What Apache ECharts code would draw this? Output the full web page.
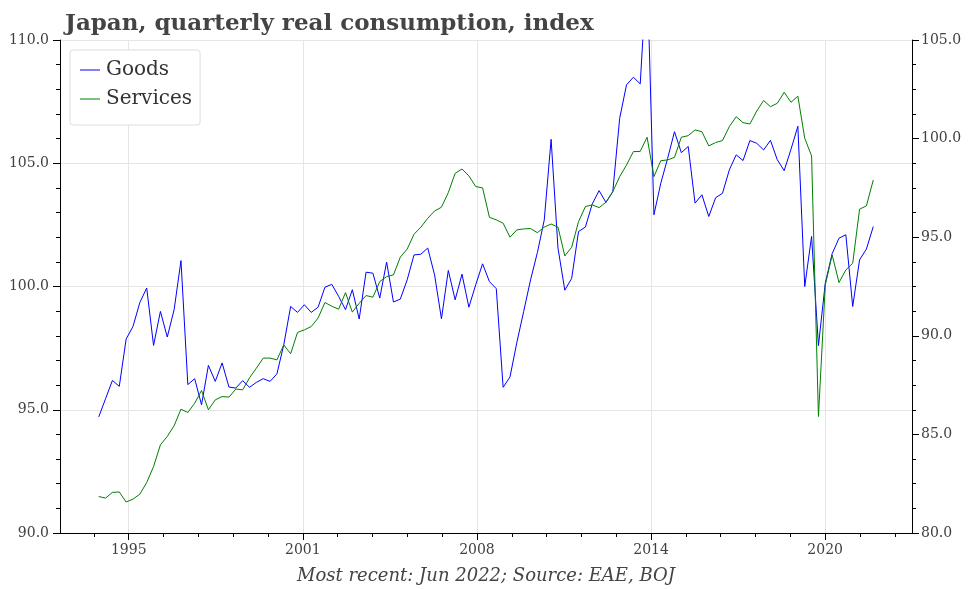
<!DOCTYPE html>
<html>
<head>
<meta charset="utf-8">
<script src="https://cdn.jsdelivr.net/npm/echarts/dist/echarts.min.js"></script>
<style>
  html, body { margin: 0; padding: 0; background: #fff; }
  #chart { width: 972px; height: 589px; }
</style>
</head>
<body>
<div id="chart"></div>
<script>
// ---- Data (quarterly, 1994 Q1 .. 2022 Q2) ----
const firstYear = 1994;
const quarters = [];
for (let y = firstYear; y <= 2022; y++) {
  for (let q = 1; q <= 4; q++) {
    if (y === 2022 && q > 2) break;
    quarters.push(y + ' Q' + q);
  }
}

const goods = [
  94.71, 95.45, 96.19, 95.95, 97.87, 98.38, 99.35, 99.94, 97.61, 98.99,
  97.95, 99.06, 101.05, 96.02, 96.26, 95.20, 96.80, 96.15, 96.90, 95.92,
  95.88, 96.18, 95.91, 96.11, 96.26, 96.15, 96.46, 97.64, 99.19, 98.95,
  99.26, 98.95, 99.16, 99.97, 100.09, 99.60, 99.06, 99.87, 98.68, 100.58,
  100.54, 99.53, 100.99, 99.37, 99.49, 100.27, 101.28, 101.31, 101.56, 100.47,
  98.69, 100.65, 99.46, 100.50, 99.16, 100.07, 100.92, 100.20, 99.91, 95.91,
  96.33, 97.73, 98.99, 100.27, 101.38, 102.70, 105.97, 101.56, 99.85, 100.33,
  102.23, 102.41, 103.35, 103.89, 103.41, 103.85, 106.82, 108.18, 108.49, 108.22,
  113.00, 102.91, 104.19, 105.20, 106.28, 105.43, 105.68, 103.38, 103.72, 102.84,
  103.60, 103.78, 104.73, 105.34, 105.11, 105.92, 105.81, 105.54, 105.93, 105.14,
  104.70, 105.57, 106.50, 100.00, 102.03, 97.60, 100.14, 101.33, 101.96, 102.10,
  99.19, 101.08, 101.52, 102.43
];

const services = [
  81.85, 81.77, 82.06, 82.08, 81.57, 81.72, 81.97, 82.56, 83.37, 84.47,
  84.90, 85.44, 86.28, 86.11, 86.58, 87.23, 86.25, 86.75, 86.92, 86.89,
  87.30, 87.26, 87.87, 88.36, 88.87, 88.87, 88.78, 89.54, 89.09, 90.17,
  90.30, 90.47, 90.90, 91.69, 91.50, 91.35, 92.19, 91.20, 91.65, 92.04,
  91.96, 92.75, 93.00, 93.09, 93.99, 94.40, 95.15, 95.51, 95.96, 96.33,
  96.52, 97.26, 98.24, 98.46, 98.11, 97.57, 97.50, 96.01, 95.88, 95.71,
  95.00, 95.37, 95.42, 95.44, 95.23, 95.51, 95.67, 95.51, 94.05, 94.49,
  95.79, 96.55, 96.64, 96.50, 96.77, 97.31, 98.07, 98.66, 99.34, 99.35,
  100.07, 98.07, 98.88, 98.92, 99.05, 100.07, 100.15, 100.44, 100.35, 99.63,
  99.80, 99.90, 100.61, 101.11, 100.81, 100.74, 101.40, 101.93, 101.62, 101.79,
  102.35, 101.84, 102.15, 100.02, 99.12, 85.91, 92.58, 94.10, 92.70, 93.34,
  93.68, 96.42, 96.59, 97.90
];

// x tick labels (years) as shown on the reference axis
const tickLabels = ['1995', '2001', '2008', '2014', '2020'];

// ---- Layout / axis configuration ----
const FONT = 'DejaVu Serif';
const TEXT = '#404040';
const n = quarters.length;
const pad = (n - 1) * 0.05;
const xMin = -pad, xMax = (n - 1) + pad;
const tickStart = 4.38, tickStep = 25.4;            // major tick placement (in quarters)
const majorTicks = tickLabels.map((_, k) => tickStart + k * tickStep);
const minorTicks = [];
for (let k = -1; k * tickStep / 5 + tickStart <= xMax; k++) {
  const v = tickStart + k * tickStep / 5;
  if (v >= xMin && k % 5 !== 0) minorTicks.push(v);
}

const goodsData = goods.map((v, i) => [i, v]);
const servicesData = services.map((v, i) => [i, v]);

const chart = echarts.init(document.getElementById('chart'), null, { renderer: 'canvas' });
chart.setOption({
  animation: false,
  backgroundColor: '#fff',
  title: [
    {
      text: 'Japan, quarterly real consumption, index',
      left: 60, top: 8,
      textStyle: { fontFamily: FONT, fontWeight: 'bold', fontSize: 23, color: '#444' }
    },
    {
      text: 'Most recent: Jun 2022; Source: EAE, BOJ',
      left: 'center', top: 562,
      textStyle: { fontFamily: FONT, fontStyle: 'italic', fontWeight: 'normal', fontSize: 18, color: '#444' }
    }
  ],
  legend: {
    orient: 'vertical',
    left: 70, top: 50,
    backgroundColor: '#fff',
    borderColor: '#dddddd', borderWidth: 1, borderRadius: 3,
    padding: [10, 8, 16, 10],
    icon: 'rect',
    itemWidth: 20, itemHeight: 1, itemGap: 9,
    textStyle: { fontFamily: FONT, fontSize: 20, color: '#333', lineHeight: 20, height: 20, padding: [0, 0, 0, 1] },
    data: ['Goods', 'Services']
  },
  grid: { left: 60, right: 60, top: 40, bottom: 56, containLabel: false },
  xAxis: [
    {
      type: 'value', min: xMin, max: xMax,
      axisLine: { show: true, onZero: false, lineStyle: { color: '#000', width: 1 } },
      axisTick: { show: true, length: 7, customValues: majorTicks, lineStyle: { color: '#000' } },
      axisLabel: {
        customValues: majorTicks, margin: 10,
        fontFamily: FONT, fontSize: 14, color: TEXT,
        formatter: (v) => { const k = Math.round((v - tickStart) / tickStep); return tickLabels[k] || ''; }
      },
      splitLine: { show: true, lineStyle: { color: '#e5e5e5', width: 1 } }
    },
    {
      type: 'value', min: xMin, max: xMax, position: 'bottom',
      axisLine: { show: false, onZero: false },
      axisTick: { show: true, length: 4, customValues: minorTicks, lineStyle: { color: '#000' } },
      axisLabel: { show: false },
      splitLine: { show: false }
    }
  ],
  yAxis: [
    {
      type: 'value', position: 'left', min: 90, max: 110, interval: 5,
      axisLine: { show: true, onZero: false, lineStyle: { color: '#000', width: 1 } },
      axisTick: { show: true, length: 7, lineStyle: { color: '#000' } },
      minorTick: { show: true, splitNumber: 5, length: 4, lineStyle: { color: '#000' } },
      axisLabel: { margin: 11, fontFamily: FONT, fontSize: 14, color: TEXT, formatter: (v) => v.toFixed(1) },
      splitLine: { show: true, lineStyle: { color: '#e5e5e5', width: 1 } }
    },
    {
      type: 'value', position: 'right', min: 80, max: 105, interval: 5,
      axisLine: { show: true, onZero: false, lineStyle: { color: '#000', width: 1 } },
      axisTick: { show: true, length: 7, lineStyle: { color: '#000' } },
      minorTick: { show: true, splitNumber: 4, length: 4, lineStyle: { color: '#000' } },
      axisLabel: { margin: 9, fontFamily: FONT, fontSize: 14, color: TEXT, formatter: (v) => v.toFixed(1) },
      splitLine: { show: false }
    }
  ],
  series: [
    {
      name: 'Goods', type: 'line', xAxisIndex: 0, yAxisIndex: 0,
      data: goodsData, symbol: 'none', clip: true,
      lineStyle: { color: '#0000ff', width: 1 }, itemStyle: { color: '#0000ff' }
    },
    {
      name: 'Services', type: 'line', xAxisIndex: 0, yAxisIndex: 1,
      data: servicesData, symbol: 'none', clip: true,
      lineStyle: { color: '#008000', width: 1 }, itemStyle: { color: '#008000' }
    }
  ]
});
</script>
</body>
</html>
